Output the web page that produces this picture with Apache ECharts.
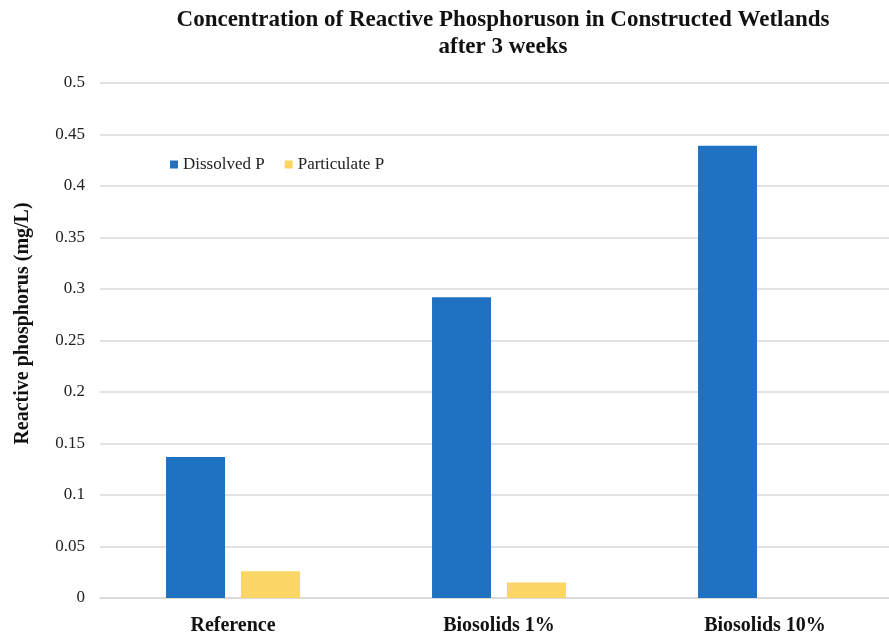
<!DOCTYPE html>
<html>
<head>
<meta charset="utf-8">
<script src="https://cdn.jsdelivr.net/npm/echarts@6/dist/echarts.min.js"></script>
<style>
  html, body { margin: 0; padding: 0; background: #fff; }
  #chart { width: 889px; height: 636px; }
</style>
</head>
<body>
<div id="chart"></div>
<script>
// Wetland treatments and reactive phosphorus concentrations (mg/L)
const categories = ['Reference', 'Biosolids 1%', 'Biosolids 10%'];
const dissolvedP = [0.137, 0.292, 0.439];
const particulateP = [0.026, 0.015, 0];
const seriesNames = ['Dissolved P', 'Particulate P'];
const yTicks = { min: 0, max: 0.5, interval: 0.05 };

const serif = '"Liberation Serif", "Times New Roman", serif';
const chart = echarts.init(document.getElementById('chart'));

chart.setOption({
  backgroundColor: '#ffffff',
  animation: false,
  title: {
    text: 'Concentration of Reactive Phosphoruson in Constructed Wetlands\nafter 3 weeks',
    left: 498,
    top: 2,
    textAlign: 'center',
    textStyle: {
      fontFamily: serif,
      fontWeight: 'bold',
      fontSize: 23,
      lineHeight: 27,
      color: '#111'
    }
  },
  legend: {
    data: seriesNames,
    left: 165,
    top: 151,
    icon: 'rect',
    itemWidth: 8,
    itemHeight: 8,
    itemGap: 20,
    textStyle: { fontFamily: serif, fontSize: 17, color: '#222' }
  },
  grid: {
    left: 100, top: 83, width: 798, height: 515,
    containLabel: false,
    outerBoundsMode: 'none'
  },
  xAxis: {
    type: 'category',
    data: categories,
    axisLine: { lineStyle: { color: '#d9d9d9', width: 1.5 } },
    axisTick: { show: false },
    axisLabel: {
      fontFamily: serif,
      fontWeight: 'bold',
      fontSize: 20,
      color: '#111',
      margin: 18
    }
  },
  yAxis: {
    type: 'value',
    min: yTicks.min,
    max: yTicks.max,
    interval: yTicks.interval,
    name: 'Reactive phosphorus (mg/L)',
    nameLocation: 'middle',
    nameGap: 67,
    nameTextStyle: {
      fontFamily: serif, fontWeight: 'bold', fontSize: 20, color: '#111',
      padding: [0, 0, 0, 34]
    },
    axisLine: { show: false },
    axisTick: { show: false },
    splitLine: { lineStyle: { color: '#d9d9d9', width: 1.5 } },
    axisLabel: { fontFamily: serif, fontSize: 17, color: '#222', margin: 15 }
  },
  series: [
    {
      name: seriesNames[0],
      type: 'bar',
      data: dissolvedP,
      barWidth: 59,
      barGap: '27%',
      itemStyle: { color: '#1f71c2' }
    },
    {
      name: seriesNames[1],
      type: 'bar',
      data: particulateP,
      barWidth: 59,
      barGap: '27%',
      itemStyle: { color: '#fbd666' }
    }
  ]
});
</script>
</body>
</html>
